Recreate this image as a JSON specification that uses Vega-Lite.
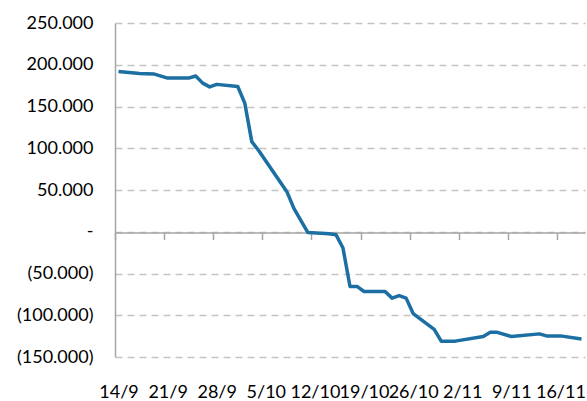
{
  "$schema": "https://vega.github.io/schema/vega-lite/v6.json",
  "width": 470,
  "height": 334,
  "autosize": "none",
  "padding": {"left": 115, "top": 23, "right": 2, "bottom": 44},
  "config": {"view": {"stroke": null}, "font": "Lato"},
  "data": {"values": [
    {"date": "2020-09-14", "value": 192000},
    {"date": "2020-09-17", "value": 189500},
    {"date": "2020-09-19", "value": 189000},
    {"date": "2020-09-21", "value": 184000},
    {"date": "2020-09-24", "value": 184000},
    {"date": "2020-09-25", "value": 186500},
    {"date": "2020-09-26", "value": 178000},
    {"date": "2020-09-27", "value": 173500},
    {"date": "2020-09-28", "value": 176500},
    {"date": "2020-10-01", "value": 174000},
    {"date": "2020-10-02", "value": 154000},
    {"date": "2020-10-03", "value": 108000},
    {"date": "2020-10-04", "value": 97000},
    {"date": "2020-10-08", "value": 48000},
    {"date": "2020-10-09", "value": 28000},
    {"date": "2020-10-11", "value": -1000},
    {"date": "2020-10-14", "value": -2500},
    {"date": "2020-10-15", "value": -3500},
    {"date": "2020-10-16", "value": -19500},
    {"date": "2020-10-17", "value": -65500},
    {"date": "2020-10-18", "value": -65500},
    {"date": "2020-10-19", "value": -71500},
    {"date": "2020-10-22", "value": -71500},
    {"date": "2020-10-23", "value": -79500},
    {"date": "2020-10-24", "value": -76500},
    {"date": "2020-10-25", "value": -79500},
    {"date": "2020-10-26", "value": -98000},
    {"date": "2020-10-29", "value": -117000},
    {"date": "2020-10-30", "value": -131000},
    {"date": "2020-11-01", "value": -131000},
    {"date": "2020-11-05", "value": -125500},
    {"date": "2020-11-06", "value": -120500},
    {"date": "2020-11-07", "value": -120500},
    {"date": "2020-11-09", "value": -125500},
    {"date": "2020-11-13", "value": -122300},
    {"date": "2020-11-14", "value": -124700},
    {"date": "2020-11-16", "value": -124700},
    {"date": "2020-11-19", "value": -128500}
  ]},
  "resolve": {"axis": {"x": "independent", "y": "independent"}},
  "layer": [
    {
      "mark": {"type": "line", "color": "#1b6fa3", "strokeWidth": 3.5, "strokeJoin": "round"},
      "encoding": {
        "x": {
          "field": "date", "type": "temporal",
          "scale": {"type": "utc", "domain": [
            {"year": 2020, "month": 9, "date": 13, "hours": 12, "utc": true},
            {"year": 2020, "month": 11, "date": 19, "hours": 12, "utc": true}
          ]},
          "axis": {
            "orient": "bottom", "title": null, "domain": false, "ticks": false, "grid": false,
            "values": [
              {"year": 2020, "month": 9, "date": 14, "utc": true},
              {"year": 2020, "month": 9, "date": 21, "utc": true},
              {"year": 2020, "month": 9, "date": 28, "utc": true},
              {"year": 2020, "month": 10, "date": 5, "utc": true},
              {"year": 2020, "month": 10, "date": 12, "utc": true},
              {"year": 2020, "month": 10, "date": 19, "utc": true},
              {"year": 2020, "month": 10, "date": 26, "utc": true},
              {"year": 2020, "month": 11, "date": 2, "utc": true},
              {"year": 2020, "month": 11, "date": 9, "utc": true},
              {"year": 2020, "month": 11, "date": 16, "utc": true}
            ],
            "labelExpr": "utcFormat(datum.value, '%-d/%-m')",
            "labelFont": "Lato", "labelFontSize": 18, "labelColor": "#000000",
            "labelPadding": 26, "labelOverlap": false, "labelFlush": false
          }
        },
        "y": {
          "field": "value", "type": "quantitative",
          "scale": {"domain": [-150000, 250000], "nice": false, "zero": false},
          "axis": {
            "title": null,
            "values": [-150000, -100000, -50000, 0, 50000, 100000, 150000, 200000, 250000],
            "labelExpr": "datum.value == 0 ? '-' : (datum.value < 0 ? '(' + replace(format(-datum.value, ',.0f'), ',', '.') + ')' : replace(format(datum.value, ',.0f'), ',', '.'))",
            "labelFont": "Lato", "labelFontSize": 18, "labelColor": "#000000",
            "labelPadding": 22, "ticks": false,
            "domain": true, "domainColor": "#a6a6a6", "domainWidth": 1.5,
            "grid": true, "gridColor": "#c4c4c4", "gridDash": [7, 5], "gridWidth": 1.5
          }
        }
      }
    },
    {
      "mark": {"type": "line", "strokeOpacity": 0},
      "encoding": {
        "x": {
          "field": "date", "type": "temporal",
          "scale": {"type": "utc"},
          "axis": {
            "orient": "bottom", "offset": -124.5, "title": null, "labels": false, "grid": false,
            "domain": true, "domainColor": "#a6a6a6", "domainWidth": 1.5,
            "ticks": true, "tickColor": "#a6a6a6", "tickWidth": 1.5, "tickSize": 7,
            "values": [
              {"year": 2020, "month": 9, "date": 13, "hours": 12, "utc": true},
              {"year": 2020, "month": 9, "date": 20, "hours": 12, "utc": true},
              {"year": 2020, "month": 9, "date": 27, "hours": 12, "utc": true},
              {"year": 2020, "month": 10, "date": 4, "hours": 12, "utc": true},
              {"year": 2020, "month": 10, "date": 11, "hours": 12, "utc": true},
              {"year": 2020, "month": 10, "date": 18, "hours": 12, "utc": true},
              {"year": 2020, "month": 10, "date": 25, "hours": 12, "utc": true},
              {"year": 2020, "month": 11, "date": 1, "hours": 12, "utc": true},
              {"year": 2020, "month": 11, "date": 8, "hours": 12, "utc": true},
              {"year": 2020, "month": 11, "date": 15, "hours": 12, "utc": true}
            ]
          }
        },
        "y": {"field": "value", "type": "quantitative", "axis": null}
      }
    }
  ]
}
